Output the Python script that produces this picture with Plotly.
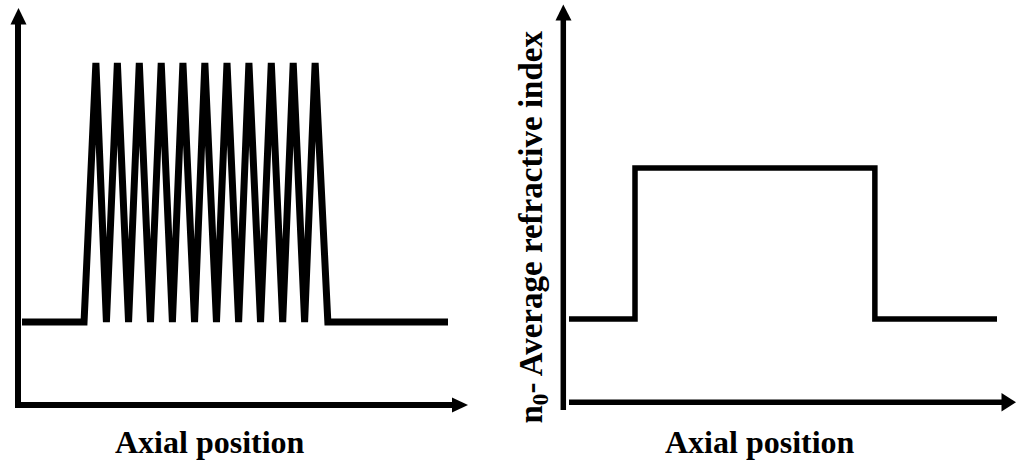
import plotly.graph_objects as go

W, H = 1016, 470

# ---- data (arbitrary axial units, normalised index) ----
left_pos = [0, 2.83,
            3.37, 3.85, 4.35, 4.86, 5.35, 5.86, 6.35, 6.86, 7.34, 7.87,
            8.34, 8.87, 9.35, 9.88, 10.35, 10.88, 11.37, 11.89, 12.37, 12.89, 13.37,
            13.95, 19.43]
left_index = [0, 0,
              1, 0, 1, 0, 1, 0, 1, 0, 1, 0,
              1, 0, 1, 0, 1, 0, 1, 0, 1, 0, 1,
              0, 0]

right_pos = [0, 3.01, 3.01, 13.95, 13.95, 19.52]
right_index = [0, 0, 0.5, 0.5, 0, 0]

x_title = "Axial position"
y_title = "n<sub>0</sub>- Average refractive index"


def xr(a, b, v0, p0, v1, p1):
    s = (p1 - p0) / (v1 - v0)
    return [a / W, b / W], [v0 + (a - p0) / s, v0 + (b - p0) / s]


def yr(top, bot, v0, p0, v1, p1):
    s = (p0 - p1) / (v1 - v0)  # pixels per unit (upwards)
    return [1 - bot / H, 1 - top / H], [v0 - (bot - p0) / s, v0 + (p0 - top) / s]


fig = go.Figure()
fig.add_trace(go.Scatter(x=left_pos, y=left_index, mode="lines",
                         line=dict(color="black", width=7),
                         xaxis="x", yaxis="y", hoverinfo="skip"))
fig.add_trace(go.Scatter(x=right_pos, y=right_index, mode="lines",
                         line=dict(color="black", width=5.5),
                         xaxis="x2", yaxis="y2", hoverinfo="skip"))

d1x, r1x = xr(15, 470, 0, 22, 19.43, 448)
d1y, r1y = yr(5, 410, 0, 322, 1, 63)
d2x, r2x = xr(560, 1016, 0, 569, 19.52, 997)
d2y, r2y = yr(3, 412, 0, 319, 0.5, 168)

ax = dict(visible=False, showgrid=False, zeroline=False, fixedrange=True)
fig.update_layout(
    width=W, height=H, margin=dict(l=0, r=0, t=0, b=0),
    paper_bgcolor="white", plot_bgcolor="rgba(0,0,0,0)", showlegend=False,
    xaxis=dict(domain=d1x, range=r1x, anchor="y", **ax),
    yaxis=dict(domain=d1y, range=r1y, anchor="x", **ax),
    xaxis2=dict(domain=d2x, range=r2x, anchor="y2", **ax),
    yaxis2=dict(domain=d2y, range=r2y, anchor="x2", **ax),
    xaxis3=dict(domain=[0, 1], range=[0, W], anchor="y3", **ax),
    yaxis3=dict(domain=[0, 1], range=[H, 0], anchor="x3", **ax),
)

shapes = [
    # left axes
    dict(type="line", x0=18, y0=407.5, x1=18, y1=22, line=dict(color="black", width=6)),
    dict(type="path", path="M 10.5 24.5 L 18.5 8 L 26.5 24.5 Z", fillcolor="black", line=dict(width=0)),
    dict(type="line", x0=15, y0=405, x1=454, y1=405, line=dict(color="black", width=6)),
    dict(type="path", path="M 452 397.5 L 468 405 L 452 412.5 Z", fillcolor="black", line=dict(width=0)),
    # right axes
    dict(type="line", x0=563.3, y0=410, x1=563.3, y1=18, line=dict(color="black", width=5.5)),
    dict(type="path", path="M 555.5 20.5 L 563.3 4.5 L 571.5 20.5 Z", fillcolor="black", line=dict(width=0)),
    dict(type="line", x0=569, y0=402.3, x1=1003, y1=402.3, line=dict(color="black", width=5.5)),
    dict(type="path", path="M 1001.5 393 L 1016 402.3 L 1001.5 411.5 Z", fillcolor="black", line=dict(width=0)),
]
for s in shapes:
    s.update(xref="x3", yref="y3", layer="above")
fig.update_layout(shapes=shapes)

font = dict(family="Liberation Serif", size=32, color="black")
fig.add_annotation(x=209.5, y=442, xref="x3", yref="y3", text="<b>" + x_title + "</b>",
                   showarrow=False, font=font, xanchor="center", yanchor="middle")
fig.add_annotation(x=759.5, y=442, xref="x3", yref="y3", text="<b>" + x_title + "</b>",
                   showarrow=False, font=font, xanchor="center", yanchor="middle")
fig.add_annotation(x=533, y=227.5, xref="x3", yref="y3", text="<b>" + y_title + "</b>",
                   showarrow=False, font=dict(font, size=33), textangle=-90,
                   xanchor="center", yanchor="middle")

fig.write_html("out.html", config={"displayModeBar": False},
               post_script="document.body.style.margin='0';")
